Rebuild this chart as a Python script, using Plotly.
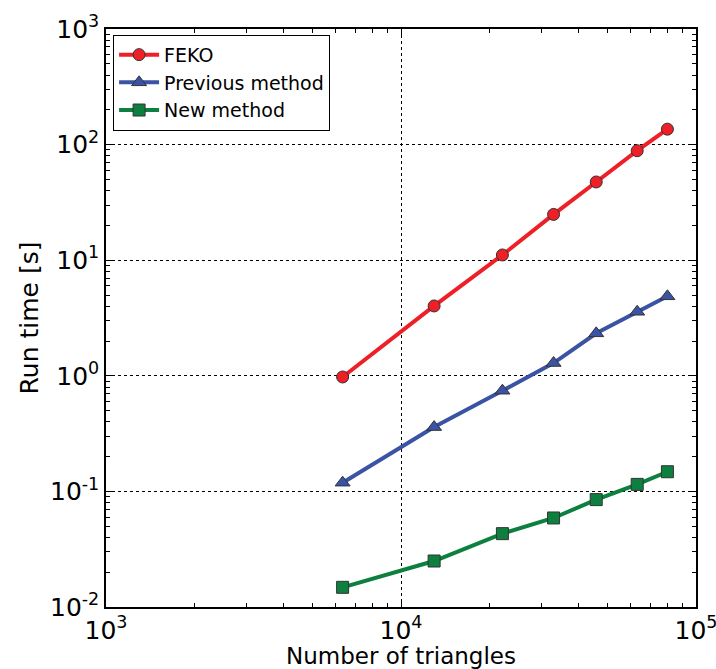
import plotly.graph_objects as go

n_triangles = [6340, 12950, 22070, 32900, 45900, 63200, 80000]
feko = [0.977, 4.02, 11.1, 24.9, 47.5, 88.5, 136]
previous = [0.119, 0.36, 0.743, 1.29, 2.33, 3.58, 4.87]
new = [0.0148, 0.0250, 0.0431, 0.0589, 0.0849, 0.115, 0.148]

x_ticks = [1e3, 1e4, 1e5]
x_ticktext = ["10<sup>3</sup>", "10<sup>4</sup>", "10<sup>5</sup>"]
y_ticks = [1e-2, 1e-1, 1e0, 1e1, 1e2, 1e3]
y_ticktext = ["10<sup>-2</sup>", "10<sup>-1</sup>", "10<sup>0</sup>", "10<sup>1</sup>",
              "10<sup>2</sup>", "10<sup>3</sup>"]

series = [
    ("FEKO", feko, "#ee1f26", "circle"),
    ("Previous method", previous, "#3a53a4", "triangle-up"),
    ("New method", new, "#0d8040", "square"),
]

fig = go.Figure()
for name, vals, color, sym in series:
    fig.add_trace(go.Scatter(
        x=n_triangles, y=vals, name=name, mode="lines+markers",
        line=dict(color=color, width=4),
        marker=dict(symbol=sym, size=12 if sym != "triangle-up" else 13, color=color,
                    line=dict(color="#333333", width=1)),
    ))

x_minor = [m * 10 ** e for e in (3, 4) for m in range(2, 10)]
y_minor = [m * 10 ** e for e in (-2, -1, 0, 1, 2) for m in range(2, 10)]

font = "DejaVu Sans, Verdana, sans-serif"
axis_common = dict(
    type="log", showline=True, linecolor="black", linewidth=1.5, mirror="ticks",
    ticks="inside", ticklen=8, tickwidth=1, tickcolor="black",
    showgrid=True, gridcolor="black", griddash="dot", gridwidth=1,
    zeroline=False, automargin=False, ticklabeloverflow="allow",
    tickfont=dict(family=font, size=25, color="black"),
)

fig.update_xaxes(**axis_common, range=[3, 5], tickvals=x_ticks, ticktext=x_ticktext,
                 minor=dict(ticks="inside", ticklen=4, tickcolor="black", showgrid=False,
                            tickvals=x_minor),
                 title=dict(text="Number of triangles", font=dict(family=font, size=23, color="black"),
                            standoff=2))
fig.update_yaxes(**axis_common, range=[-2, 3], tickvals=y_ticks, ticktext=y_ticktext,
                 minor=dict(ticks="inside", ticklen=4, tickcolor="black", showgrid=False,
                            tickvals=y_minor),
                 title=dict(text="Run time [s]", font=dict(family=font, size=25, color="black"),
                            standoff=4))

fig.update_layout(
    width=716, height=669,
    margin=dict(l=106, r=20, t=29, b=62),
    plot_bgcolor="white", paper_bgcolor="white",
    font=dict(family=font, color="black"),
    showlegend=True,
    legend=dict(x=0.012, y=0.99, xanchor="left", yanchor="top",
                bgcolor="white", bordercolor="black", borderwidth=1,
                font=dict(family=font, size=19, color="black"),
                tracegroupgap=0, itemwidth=40),
)

fig.write_html("out.html")
